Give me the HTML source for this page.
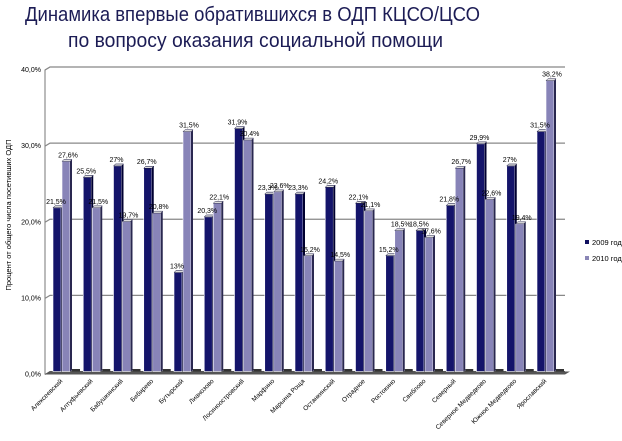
<!DOCTYPE html>
<html><head><meta charset="utf-8">
<style>
body{margin:0;background:#fff;width:622px;height:441px;overflow:hidden;font-family:"Liberation Sans","DejaVu Sans",sans-serif;}
svg{display:block}
</style></head>
<body>
<svg id="chart" width="622" height="441" viewBox="0 0 622 441" xmlns="http://www.w3.org/2000/svg">
<text x="25" y="21" textLength="455" lengthAdjust="spacingAndGlyphs" font-size="20" fill="#1c1c55">Динамика впервые обратившихся в ОДП КЦСО/ЦСО</text>
<text x="68" y="47" textLength="375" lengthAdjust="spacingAndGlyphs" font-size="20" fill="#1c1c55">по вопросу  оказания социальной помощи</text>
<text transform="translate(11,215) rotate(-90)" text-anchor="middle" font-size="7.5" fill="#000">Процент от общего числа посетивших ОДП</text>
<g id="grid"></g>
<g id="bars"></g>
<g id="labels"></g>
<g id="cats"></g>
<g>
<g><rect x="585" y="240" width="4" height="4" fill="#101060"/><text x="592" y="245" font-size="7.5">2009 год</text></g>
<g><rect x="585" y="256" width="4" height="4" fill="#8a86b6"/><text x="592" y="261" font-size="7.5">2010 год</text></g>
</g>
</svg>
<script>
const categories=["Алексеевский","Алтуфьевский","Бабушкинский","Бибирево","Бутырский","Лианозово","Лосиноостровский","Марфино","Марьина Роща","Останкинский","Отрадное","Ростокино","Свиблово","Северный","Северное Медведково","Южное Медведково","Ярославский"];
const series2009=[21.5,25.5,27,26.7,13,20.3,31.9,23.3,23.3,24.2,22.1,15.2,18.5,21.8,29.9,27,31.5];
const series2010=[27.6,21.5,19.7,20.8,31.5,22.1,30.4,23.6,15.2,14.5,21.1,18.5,17.6,26.7,22.6,19.4,38.2];
const labels2009=["21,5%","25,5%","27%","26,7%","13%","20,3%","31,9%","23,3%","23,3%","24,2%","22,1%","15,2%","18,5%","21,8%","29,9%","27%","31,5%"];
const labels2010=["27,6%","21,5%","19,7%","20,8%","31,5%","22,1%","30,4%","23,6%","15,2%","14,5%","21,1%","18,5%","17,6%","26,7%","22,6%","19,4%","38,2%"];
const yTicks=[0,10,20,30,40];
const yTickLabels=["0,0%","10,0%","20,0%","30,0%","40,0%"];

const NS="http://www.w3.org/2000/svg";
const y0=371.5, yTop=67, vmax=40;
const y=v=>y0-(y0-yTop)*v/vmax;
const x0=53, pitch=30.25, bw=8;
const x=i=>x0+i*pitch;
function mk(tag,attrs,parent){const e=document.createElementNS(NS,tag);for(const k in attrs)e.setAttribute(k,attrs[k]);parent.appendChild(e);return e;}

const grid=document.getElementById('grid');
mk('path',{d:`M45 ${y0+3} L45 ${yTop+3} L50 ${yTop}`,stroke:'#777',fill:'none','stroke-width':1},grid);
yTicks.forEach((t,i)=>{
  const gy=y(t);
  const l=mk('path',{d:`M45 ${gy+3} L50 ${gy} L565 ${gy}`,stroke:t===0?'#555':'#888',fill:'none','stroke-width':t===0?1:1.3},grid);
  
  
  const tx=mk('text',{x:41,y:gy+5,'text-anchor':'end','font-size':7,fill:'#000'},grid);
  tx.textContent=yTickLabels[i];
  
  
});
mk('path',{d:`M45 ${y0+3} L50 ${y0} L570 ${y0} L565 ${y0+3} Z`,fill:'#555'},grid);

const bars=document.getElementById('bars'), lab=document.getElementById('labels'), cats=document.getElementById('cats');
function bar3d(bx,v,front,side,name){
  const g=mk('g',{},bars);
  
  
  const ty=y(v);
  mk('rect',{x:bx,y:ty,width:bw,height:y0-ty,fill:front,stroke:'#fff','stroke-width':0.6},g);
  mk('path',{d:`M${bx+bw} ${ty} L${bx+bw+2} ${ty-2} L${bx+bw+2} ${y0-1} L${bx+bw} ${y0} Z`,fill:side},g);
  mk('path',{d:`M${bx} ${ty} L${bx+2} ${ty-2} L${bx+bw+2} ${ty-2} L${bx+bw} ${ty} Z`,fill:'#ddd',stroke:side,'stroke-width':0.5},g);
}
categories.forEach((c,i)=>{
  const bx=x(i);
  mk('rect',{x:bx+19,y:y0-2.5,width:8,height:2.5,fill:'#333'},bars);
  bar3d(bx,series2009[i],'#14146a','#000030','bar-2009-'+i);
  bar3d(bx+bw+1,series2010[i],'#8884b8','#2a2850','bar-2010-'+i);
  const t1=mk('text',{x:bx+3,y:y(series2009[i])-4,'text-anchor':'middle','font-size':7,fill:'#000'},lab);
  t1.textContent=labels2009[i];
  
  
  const t2=mk('text',{x:bx+bw+7,y:y(series2010[i])-4,'text-anchor':'middle','font-size':7,fill:'#000'},lab);
  t2.textContent=labels2010[i];
  
  
  const ct=mk('text',{transform:`translate(${bx+10},${y0+10}) rotate(-45)`,'text-anchor':'end','font-size':6.5,fill:'#000'},cats);
  ct.textContent=c;
  
  
});
</script>
</body></html>
